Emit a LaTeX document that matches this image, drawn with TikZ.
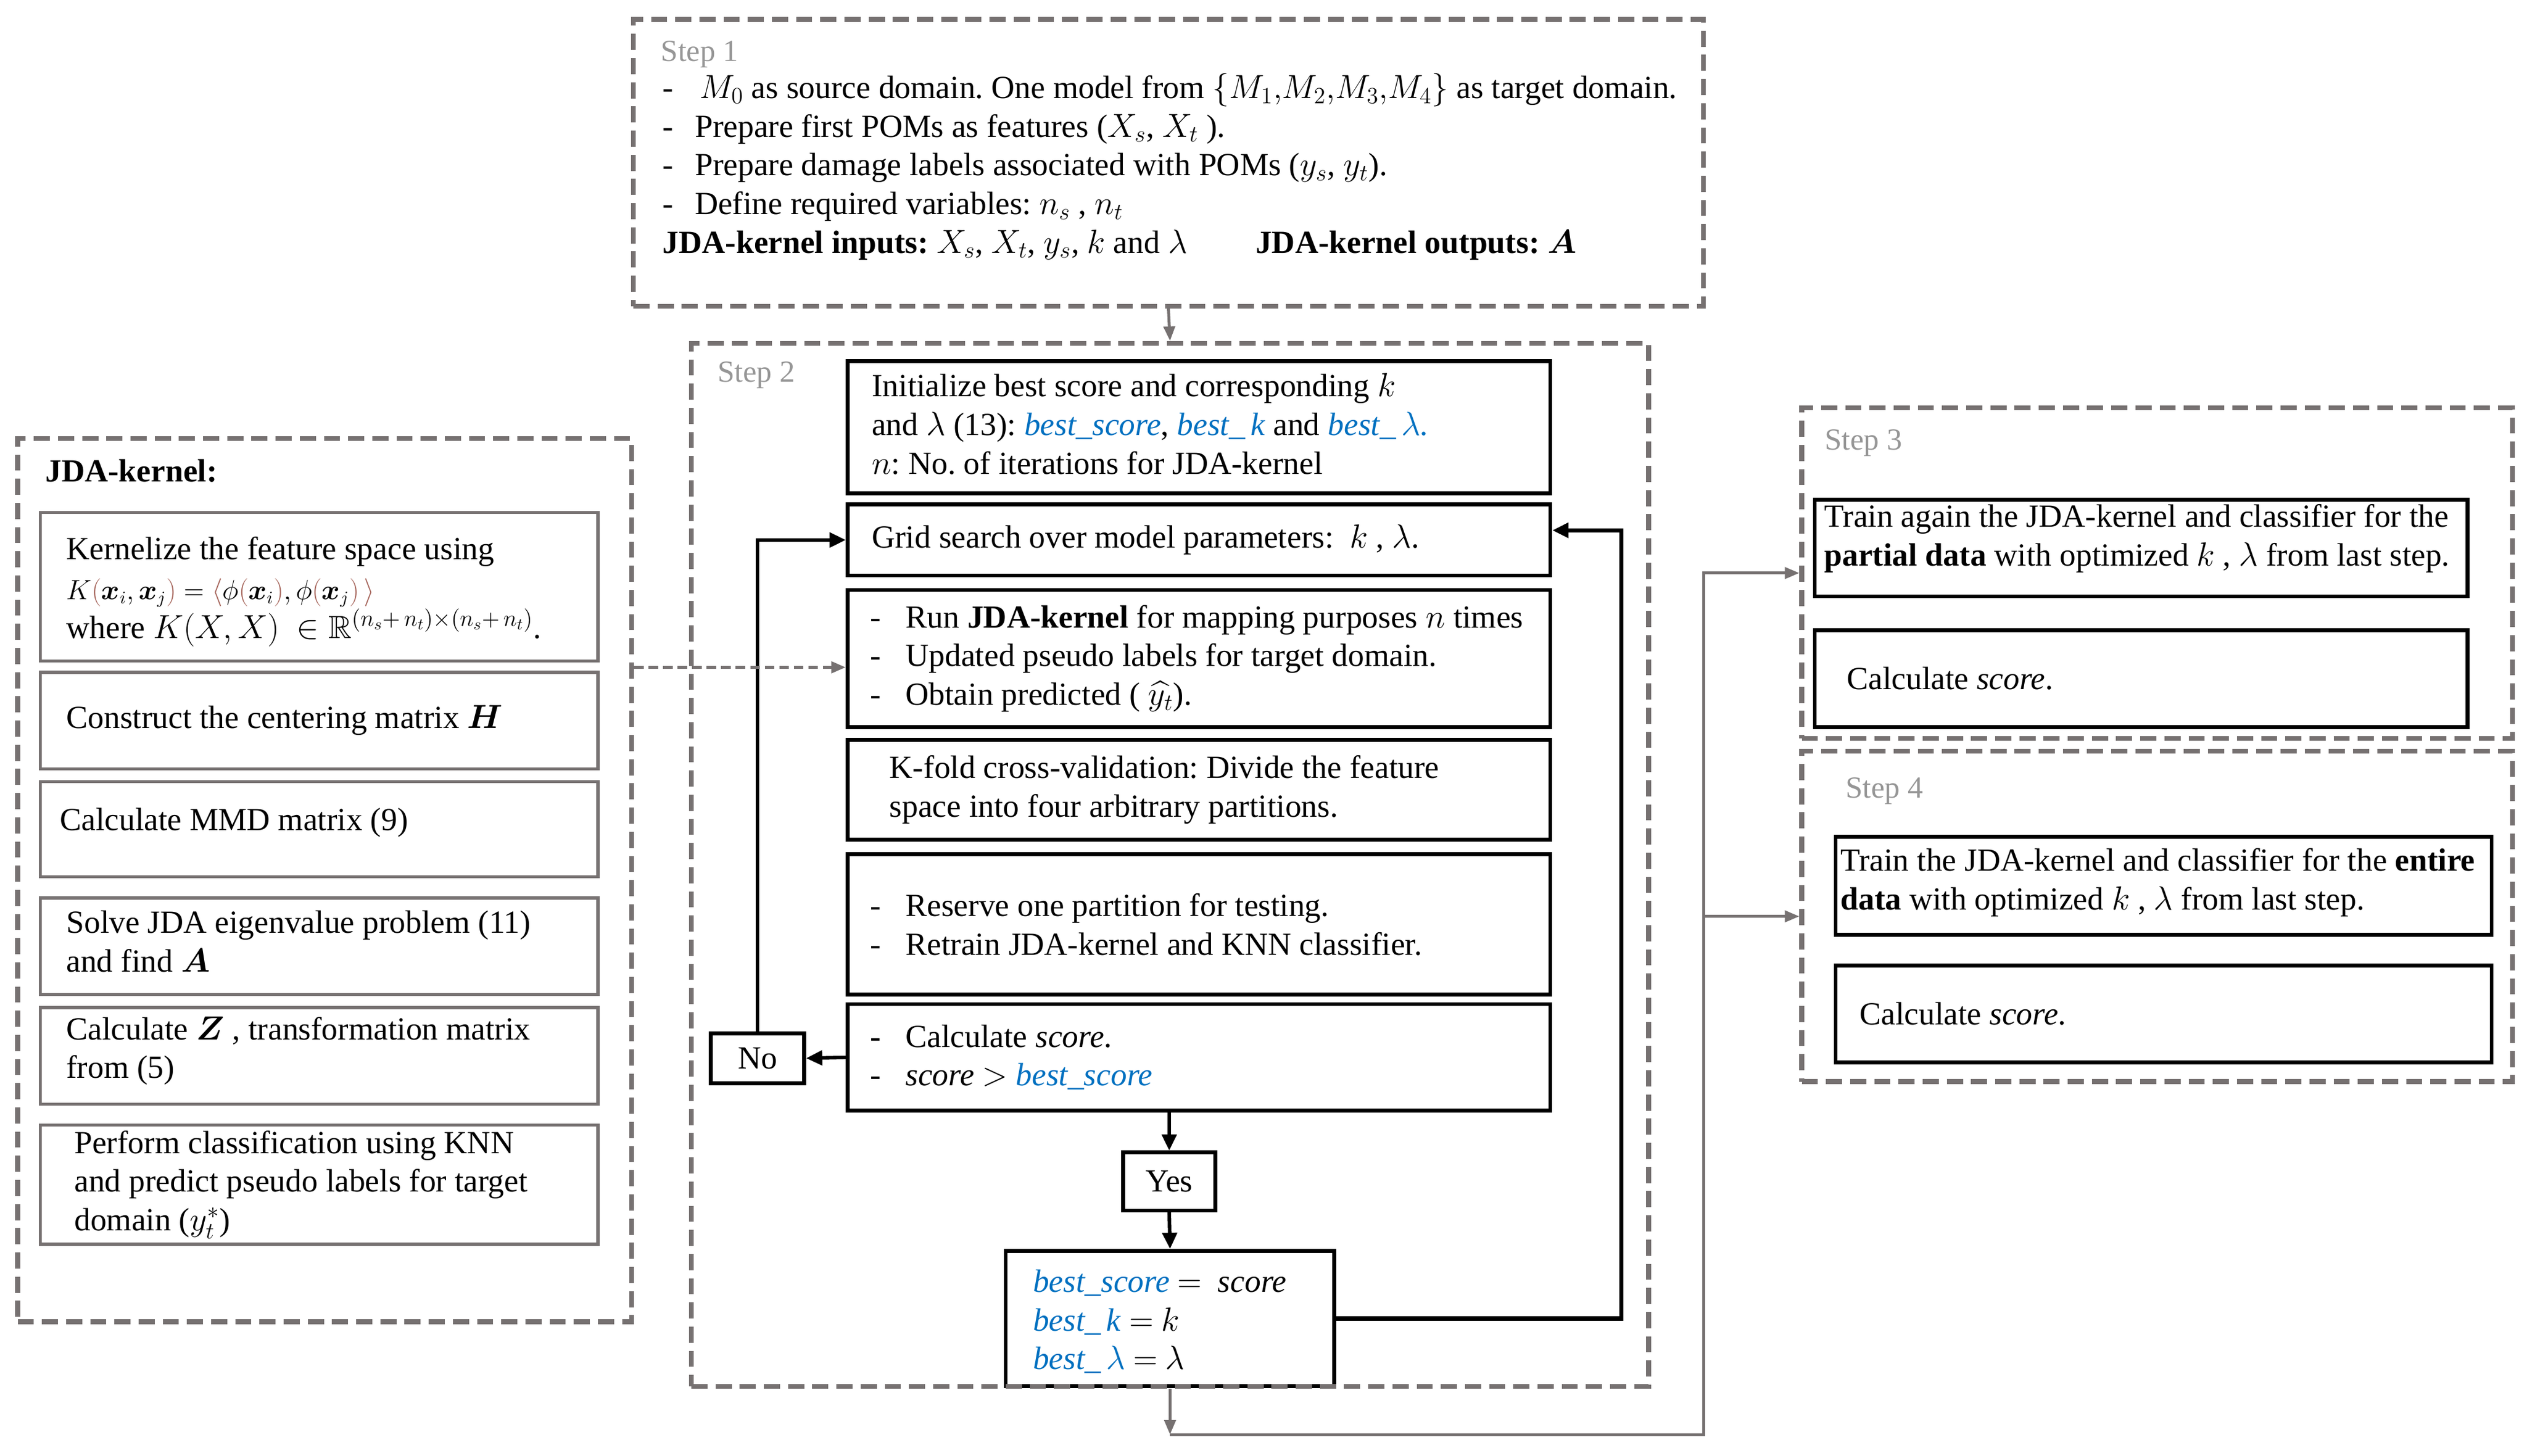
\documentclass[tikz,border=0pt]{standalone}
\usepackage{amsmath,amssymb,bm}
\usepackage{fontspec}
\setmainfont{Liberation Serif}
\usetikzlibrary{arrows.meta,calc}
\definecolor{dgray}{RGB}{118,113,113}
\definecolor{lgray}{RGB}{150,150,150}
\definecolor{myblue}{RGB}{0,112,192}
\definecolor{brn}{RGB}{165,100,90}
\newcommand{\bl}[1]{\textcolor{myblue}{\textit{#1}}}
\newcommand{\dl}{\makebox[22pt][l]{-}}
\newcommand{\dla}{\makebox[20pt][l]{-}}
\newcommand{\bp}[1]{\textcolor{brn}{#1}}
\frenchspacing
\begin{document}
\begin{tikzpicture}[x=1pt,y=-1pt,
  txt/.style={inner sep=0pt, font=\fontsize{20}{24}\selectfont, align=left},
  lbl/.style={inner sep=0pt, font=\fontsize{19}{22}\selectfont, text=lgray, anchor=base west},
  dbox/.style={draw=dgray, line width=3pt, dash pattern=on 10pt off 5pt, inner sep=0pt},
  bbox/.style={draw=black, line width=2.4pt, inner sep=0pt},
  gbox/.style={draw=dgray, line width=2pt, inner sep=0pt},
  arr/.style={draw=black, line width=2.2pt, -{Triangle[length=10pt,width=9pt]}},
  garr/.style={draw=dgray, line width=1.8pt, -{Triangle[length=9pt,width=7pt]}},
]
\useasboundingbox (0,0) rectangle (1568,903);

% ---------- Step 1 ----------
\node[lbl] (s1lbl) at (410,38) {Step 1};
\node[txt, anchor=base west] (l1) at (411,61) {\dla\hspace{3pt}$M_0$ as source domain. One model from $\{M_1,\!M_2,\!M_3,\!M_4\}$ as target domain.};
\node[txt, anchor=base west] (l2) at (411,85) {\dla Prepare first POMs as features ($X_s$, $X_t$ ).};
\node[txt, anchor=base west] (l3) at (411,109) {\dla Prepare damage labels associated with POMs ($y_s$, $y_t$).};
\node[txt, anchor=base west] (l4) at (411,133) {\dla Define required variables: $n_s$ , $n_t$};
\node[txt, anchor=base west] (l5) at (411,157) {\textbf{JDA-kernel inputs:} $X_s$, $X_t$, $y_s$, $k$ and $\lambda$};
\node[txt, anchor=base west] (l6) at (779,157) {\textbf{JDA-kernel outputs:} $\bm{A}$};

% ---------- JDA-kernel ----------
\node[txt, anchor=base west] (jdalbl) at (28,299) {\textbf{JDA-kernel:}};
\node[gbox, minimum width=346pt, minimum height=92pt] (k1) at (198,364) {};
\node[txt, anchor=west] (k1t) at ([xshift=17pt,yshift=-3pt]k1.west) {Kernelize the feature space using\\[1pt]
{\fontsize{16}{19}\selectfont $K\bp{(}\bm{x}_i,\bm{x}_j\bp{)} = \bp{\langle}\phi\bp{(}\bm{x}_i\bp{)},\phi\bp{(}\bm{x}_j\bp{)}\,\bp{\rangle}$}\\
where $K(X,X)\ \in \mathbb{R}^{(n_s+\,n_t)\times(n_s+\,n_t)}$.};
\node[gbox, minimum width=346pt, minimum height=60pt] (k2) at (198,447) {};
\node[txt, anchor=west] (k2t) at ([xshift=17pt]k2.west) {Construct the centering matrix $\bm{H}$};
\node[gbox, minimum width=346pt, minimum height=59pt] (k3) at (198,514.5) {};
\node[txt, anchor=west] (k3t) at ([xshift=13pt,yshift=4pt]k3.west) {Calculate MMD matrix (9)};
\node[gbox, minimum width=346pt, minimum height=60pt] (k4) at (198,587) {};
\node[txt, anchor=west] (k4t) at ([xshift=17pt,yshift=3pt]k4.west) {Solve JDA eigenvalue problem (11)\\ and find $\bm{A}$};
\node[gbox, minimum width=346pt, minimum height=60pt] (k5) at (198,655) {};
\node[txt, anchor=west] (k5t) at ([xshift=17pt,yshift=3pt]k5.west) {Calculate $\bm{Z}$ , transformation matrix\\ from (5)};
\node[gbox, minimum width=346pt, minimum height=74pt] (k6) at (198,735) {};
\node[txt, anchor=west] (k6t) at ([xshift=22pt]k6.west) {Perform classification using KNN\\ and predict pseudo labels for target\\ domain ($y_t^*$)};

% ---------- Step 2 ----------
\node[lbl] (s2lbl) at (445,237) {Step 2};
\node[bbox, minimum width=436pt, minimum height=82pt] (init) at (744,265) {};
\node[txt, anchor=west] (initt) at ([xshift=16pt,yshift=2pt]init.west) {Initialize best score and corresponding $k$\\ and $\lambda$ (13): \bl{best\_score}, \bl{best\_\,k} and \bl{best\_\,$\lambda$.}\\ $n$: No. of iterations for JDA-kernel};
\node[bbox, minimum width=436pt, minimum height=44pt] (grid) at (744,335) {};
\node[txt, anchor=west] (gridt) at ([xshift=16pt]grid.west) {Grid search over model parameters: \ $k$ , $\lambda$.};
\node[bbox, minimum width=436pt, minimum height=85pt] (run) at (744,408.5) {};
\node[txt, anchor=west] (runt) at ([xshift=15pt]run.west) {\dl Run \textbf{JDA-kernel} for mapping purposes $n$ times\\ \dl Updated pseudo labels for target domain.\\ \dl Obtain predicted ( $\smash{\widehat{y_t}}$).};
\node[bbox, minimum width=436pt, minimum height=62pt] (kfold) at (744,490) {};
\node[txt, anchor=west] (kfoldt) at ([xshift=27pt]kfold.west) {K-fold cross-validation: Divide the feature\\ space into four arbitrary partitions.};
\node[bbox, minimum width=436pt, minimum height=87pt] (reserve) at (744,573.5) {};
\node[txt, anchor=west] (reservet) at ([xshift=15pt]reserve.west) {\dl Reserve one partition for testing.\\ \dl Retrain JDA-kernel and KNN classifier.};
\node[bbox, minimum width=436pt, minimum height=66pt] (calc) at (744,656) {};
\node[txt, anchor=west] (calct) at ([xshift=15pt]calc.west) {\dl Calculate \textit{score}.\\ \dl \textit{score} $>$ \bl{best\_score}};
\node[bbox, minimum width=58pt, minimum height=31pt, font=\fontsize{20}{24}\selectfont] (no) at (470,656.5) {No};
\node[bbox, minimum width=57pt, minimum height=36pt, font=\fontsize{20}{24}\selectfont] (yes) at (725.5,733) {Yes};
\node[bbox, minimum width=204pt, minimum height=84pt] (best) at (726,818) {};
\node[txt, anchor=west] (bestt) at ([xshift=18pt,yshift=-2pt]best.west) {\bl{best\_score} $=$ \ \textit{score}\\ \bl{best\_\,k} $=$ $k$\\ \bl{best\_\,$\lambda$} $=$ $\lambda$};

% ---------- Step 3 ----------
\node[lbl] (s3lbl) at (1132,279) {Step 3};
\node[bbox, minimum width=405pt, minimum height=60pt] (s3a) at (1328.5,340) {};
\node[txt, anchor=west] (s3at) at ([xshift=7pt,yshift=6pt]s3a.west) {Train again the JDA-kernel and classifier for the\\ \textbf{partial data} with optimized $k$ , $\lambda$ from last step.};
\node[bbox, minimum width=405pt, minimum height=60pt] (s3b) at (1328.5,421) {};
\node[txt, anchor=west] (s3bt) at ([xshift=21pt]s3b.west) {Calculate \textit{score}.};

% ---------- Step 4 ----------
\node[lbl] (s4lbl) at (1145,495) {Step 4};
\node[bbox, minimum width=407pt, minimum height=61pt] (s4a) at (1342.5,549.5) {};
\node[txt, anchor=west] (s4at) at ([xshift=4pt,yshift=2pt]s4a.west) {Train the JDA-kernel and classifier for the \textbf{entire}\\ \textbf{data} with optimized $k$ , $\lambda$ from last step.};
\node[bbox, minimum width=407pt, minimum height=60pt] (s4b) at (1342.5,629) {};
\node[txt, anchor=west] (s4bt) at ([xshift=16pt]s4b.west) {Calculate \textit{score}.};

% ---------- dashed frames ----------
\node[dbox, minimum width=664pt, minimum height=178pt] (s1) at (725,101) {};
\node[dbox, minimum width=594pt, minimum height=647pt] (s2) at (726,536.5) {};
\node[dbox, minimum width=381pt, minimum height=548pt] (jda) at (201.5,546) {};
\node[dbox, minimum width=441pt, minimum height=205pt] (s3) at (1338.5,355.5) {};
\node[dbox, minimum width=441pt, minimum height=205pt] (s4) at (1338.5,568.5) {};

% ---------- black connectors ----------
\draw[arr] (calc.west) -- (no.east);
\draw[arr] (no.north) |- (grid.west);
\draw[arr] (calc.south -| yes.north) -- (yes.north);
\draw[arr] (yes.south) -- (best.north);
\coordinate (rt) at (1006,0);
\draw[arr, line width=2.6pt] (best.east) -- (best.east -| rt) |- ([yshift=6pt]grid.east);

% ---------- gray connectors ----------
\draw[garr] (s1.south) -- (s2.north);
\coordinate (q) at ([yshift=-5.5pt]run.west);
\draw[garr, line width=2pt, dash pattern=on 6pt off 3pt] (jda.east |- q) -- (q);
\coordinate (b1) at (726,890);
\coordinate (b2) at (1057,890);
\draw[garr] (s2.south) -- (b1);
\draw[garr] (b1) -- (b2) |- (s3.west);
\draw[garr] (b2 |- s4.west) -- (s4.west);
\end{tikzpicture}
\end{document}
